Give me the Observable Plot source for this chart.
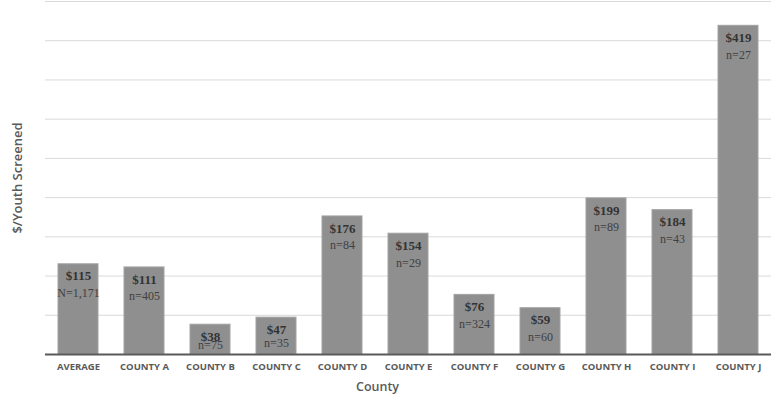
<!DOCTYPE html>
<html>
<head>
<meta charset="utf-8">
<script src="https://cdn.jsdelivr.net/npm/d3@7"></script>
<script src="https://cdn.jsdelivr.net/npm/@observablehq/plot@0.6"></script>
<style>
  html, body { margin: 0; padding: 0; background: #fff; }
  #chart svg { display: block; }
</style>
</head>
<body>
<div id="chart"></div>
<script>
const counties = ["AVERAGE", "COUNTY A", "COUNTY B", "COUNTY C", "COUNTY D", "COUNTY E", "COUNTY F", "COUNTY G", "COUNTY H", "COUNTY I", "COUNTY J"];
const costs = [115, 111, 38, 47, 176, 154, 76, 59, 199, 184, 419];
const nLabels = ["N=1,171", "n=405", "n=75", "n=35", "n=84", "n=29", "n=324", "n=60", "n=89", "n=43", "n=27"];
const gridValues = [50, 100, 150, 200, 250, 300, 350, 400, 450];
const xTitle = "County";
const yTitle = "$/Youth Screened";

const data = counties.map((c, i) => ({county: c, value: costs[i], n: nLabels[i]}));

const chart = Plot.plot({
  width: 778,
  height: 402,
  marginLeft: 45,
  marginRight: 7,
  marginTop: 1,
  marginBottom: 48,
  style: {background: "#fff"},
  x: {domain: counties, paddingInner: 0.4, paddingOuter: 0.2, label: null},
  y: {domain: [0, 450], axis: null},
  marks: [
    Plot.gridY(gridValues, {stroke: "#d9d9d9", strokeOpacity: 1, strokeWidth: 1}),
    Plot.barY(data, {x: "county", y: "value", fill: "#8f8f8f", stroke: "#a3a3a3", strokeWidth: 1}),
    Plot.ruleY([0], {stroke: "#595959", strokeWidth: 2}),
    Plot.axisX({tickSize: 0, tickPadding: 9, fontSize: 9.5, fontWeight: "bold", fontFamily: "Open Sans", fill: "#595959", label: null}),
    Plot.text(data, {x: "county", y: "value", text: d => "$" + d.value, dy: 12, fontSize: 13, fontWeight: "bold", fontFamily: "Liberation Serif", fill: "#333"}),
    Plot.text(data, {x: "county", y: d => Math.max(d.value - 37, d.value * 0.3), text: "n", fontSize: 12, fontFamily: "Liberation Serif", fill: "#404040"}),
    Plot.text([xTitle], {frameAnchor: "bottom", lineAnchor: "middle", textAnchor: "middle", dy: 32, dx: -31, fontSize: 12.5, fontWeight: 600, fontFamily: "Open Sans", fill: "#595959"}),
    Plot.text([yTitle], {frameAnchor: "left", textAnchor: "middle", lineAnchor: "middle", rotate: -90, dx: -28, fontSize: 13, fontWeight: 600, fontFamily: "Open Sans", fill: "#595959"})
  ]
});
document.getElementById("chart").appendChild(chart);
</script>
</body>
</html>
